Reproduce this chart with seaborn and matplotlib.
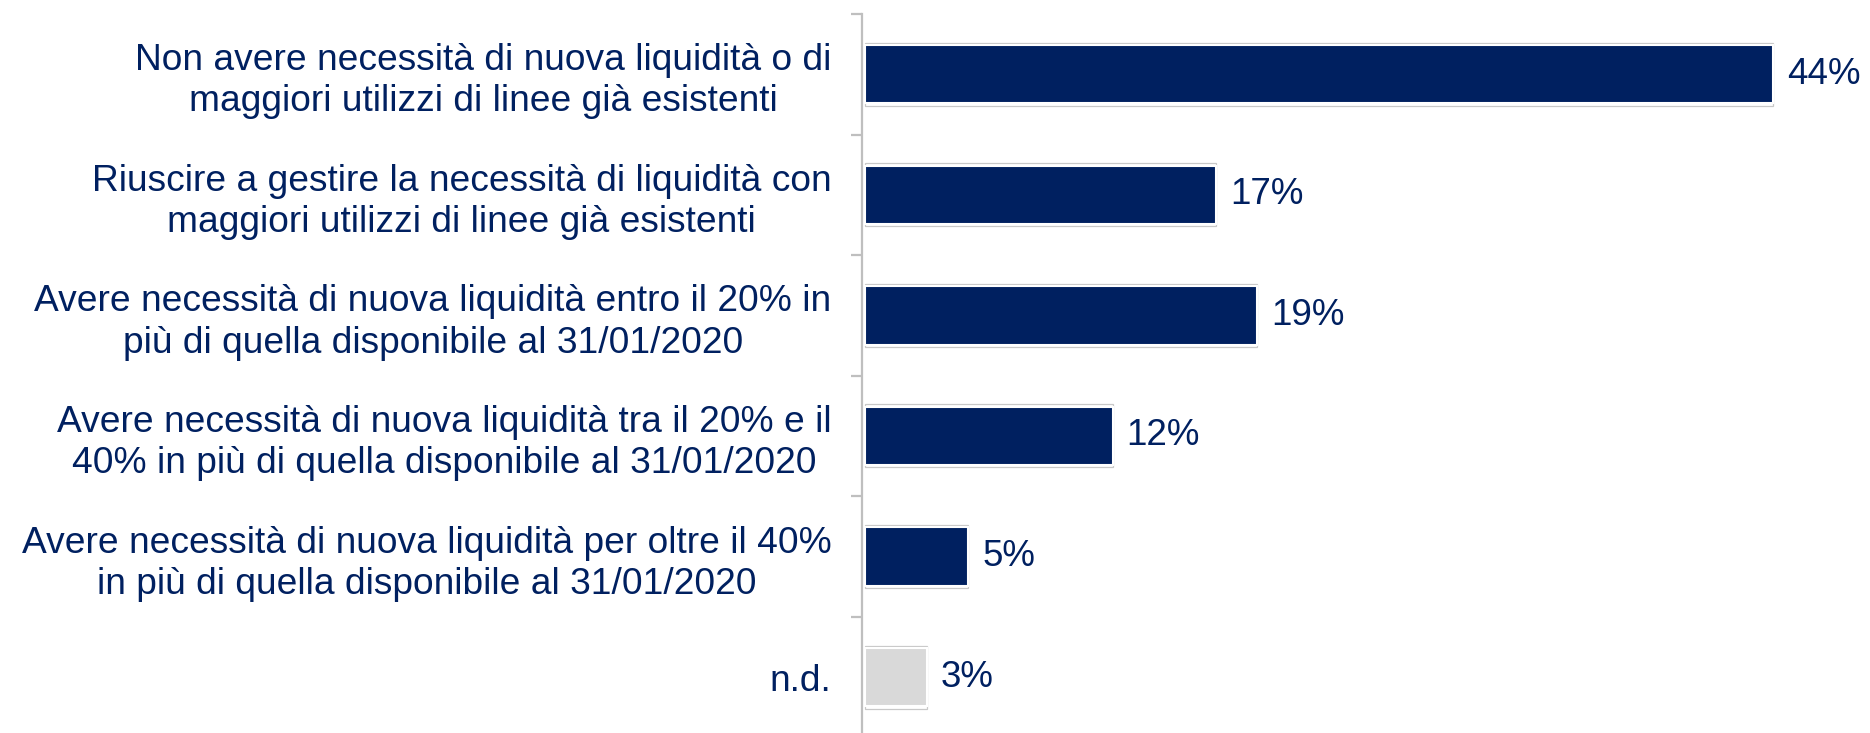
import matplotlib
matplotlib.use('Agg')
from matplotlib import pyplot as plt
import pandas as pd
import seaborn as sns

# Dati del grafico
categorie = [
    'Non avere necessità di nuova liquidità o di\nmaggiori utilizzi di linee già esistenti',
    'Riuscire a gestire la necessità di liquidità con\nmaggiori utilizzi di linee già esistenti',
    'Avere necessità di nuova liquidità entro il 20% in\npiù di quella disponibile al 31/01/2020',
    'Avere necessità di nuova liquidità tra il 20% e il\n40% in più di quella disponibile al 31/01/2020',
    'Avere necessità di nuova liquidità per oltre il 40%\nin più di quella disponibile al 31/01/2020',
    'n.d.',
]
valori = [44, 17, 19, 12, 5, 3]
etichette = ['44%', '17%', '19%', '12%', '5%', '3%']

NAVY = '#002060'
colori = [NAVY] * 5 + ['#D9D9D9']

sns.set_style('white')
plt.rcParams['font.family'] = ['Liberation Sans', 'DejaVu Sans']

df = pd.DataFrame({'categoria': categorie, 'valore': valori})

fig = plt.figure(figsize=(18.7, 7.33), dpi=100)
ax = fig.add_axes([0.461, -0.006, 0.539, 0.987])

# barra esterna con bordo grigio chiaro
sns.barplot(data=df, x='valore', y='categoria', orient='h', width=0.522,
            color='white', saturation=1, edgecolor='#C8C8C8', linewidth=0.9, ax=ax)
outer = ax.containers[0]
# barra interna colorata con bordo bianco
sns.barplot(data=df, x='valore', y='categoria', orient='h', width=0.485,
            hue='categoria', palette=colori, legend=False, saturation=1,
            edgecolor='white', linewidth=1.5, ax=ax)

ax.bar_label(outer, labels=etichette, padding=10, fontsize=26.5, color=NAVY)

ax.set_xlim(-0.15, 48.7)
ax.set_ylim(5.5, -0.5)
ax.set_xlabel('')
ax.set_ylabel('')
ax.set_xticks([])

for s in ['top', 'right', 'bottom']:
    ax.spines[s].set_visible(False)
ax.spines['left'].set_color('#BFBFBF')
ax.spines['left'].set_linewidth(1.6)

ax.set_yticks(range(len(categorie)))
ax.set_yticklabels(categorie, fontsize=26.7, color=NAVY, multialignment='center',
                   linespacing=1.23)
ax.tick_params(axis='y', which='major', length=0, pad=22)
ax.set_yticks([i - 0.5 for i in range(len(categorie) + 1)], minor=True)
ax.tick_params(axis='y', which='minor', length=8, width=1.6, color='#BFBFBF', left=True)

plt.savefig('out.png', dpi=100)
